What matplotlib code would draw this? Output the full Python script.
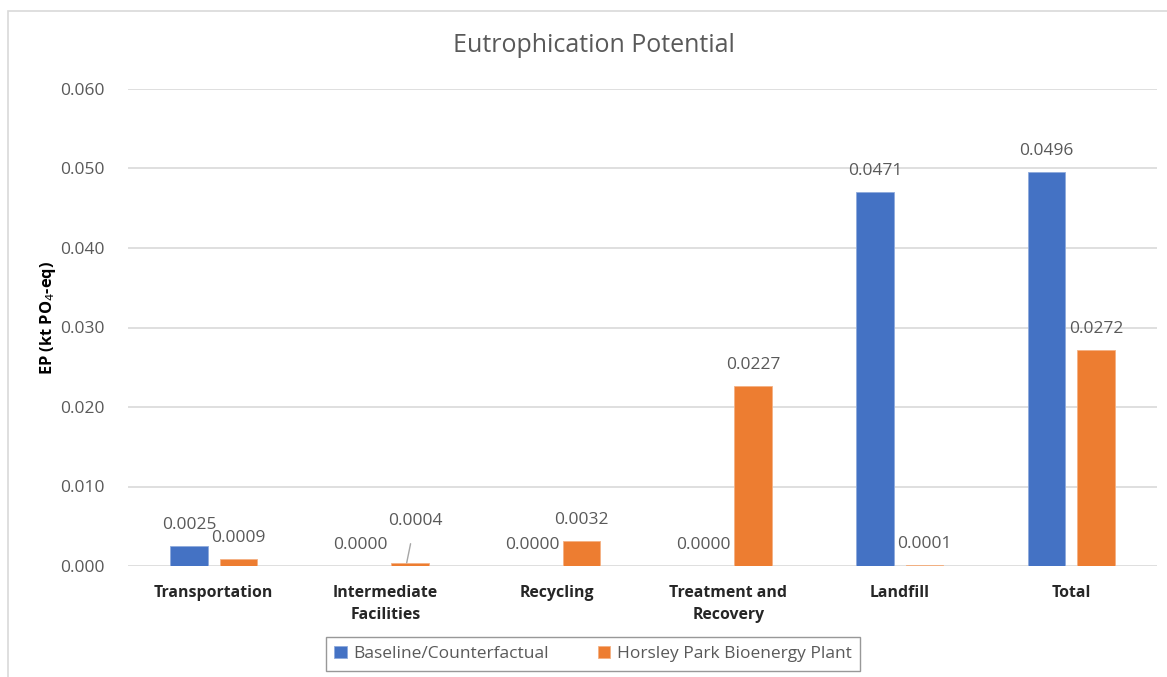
import matplotlib
matplotlib.use("Agg")
import matplotlib.pyplot as plt
from matplotlib.patches import Rectangle
import numpy as np

plt.rcParams["font.family"] = ["Open Sans", "DejaVu Sans"]

categories = ["Transportation", "Intermediate\nFacilities", "Recycling",
              "Treatment and\nRecovery", "Landfill", "Total"]
baseline = [0.0025, 0.0000, 0.0000, 0.0000, 0.0471, 0.0496]
horsley = [0.0009, 0.0004, 0.0032, 0.0227, 0.0001, 0.0272]
series_names = ["Baseline/Counterfactual", "Horsley Park Bioenergy Plant"]
yticks = [0.000, 0.010, 0.020, 0.030, 0.040, 0.050, 0.060]

BLUE = "#4472C4"
ORANGE = "#ED7D31"
GREY_TEXT = "#595959"

fig = plt.figure(figsize=(11.67, 6.77), dpi=100)
ax = fig.add_axes([128 / 1167, 1 - 566 / 677, (1157 - 128) / 1167, (566 - 89) / 677])

# chart area outline
fig.add_artist(Rectangle((8 / 1167, -0.05), 1.2, 1 - 11 / 677 + 0.05,
                         transform=fig.transFigure, fill=False,
                         edgecolor="#D9D9D9", linewidth=1.2))

x = np.arange(len(categories))
w = 0.22
off = 0.145
b1 = ax.bar(x - off, baseline, w, color=BLUE, edgecolor="#8FAADC", linewidth=0.6,
            label=series_names[0], zorder=3)
b2 = ax.bar(x + off, horsley, w, color=ORANGE, edgecolor="#F4B183", linewidth=0.6,
            label=series_names[1], zorder=3)

ax.set_xlim(-0.5, len(categories) - 0.5)
ax.set_ylim(0, 0.060)
ax.set_yticks(yticks)
ax.set_yticklabels([f"{v:.3f}" for v in yticks], fontsize=12.5, color=GREY_TEXT)
ax.set_xticks(x)
ax.set_xticklabels(categories, fontsize=11.4, fontweight="bold", color="#262626",
                   linespacing=1.45)
ax.tick_params(axis="both", length=0)
ax.tick_params(axis="y", pad=17)
ax.tick_params(axis="x", pad=14)
ax.grid(axis="y", color="#D9D9D9", linewidth=1.2, zorder=0)
for s in ax.spines.values():
    s.set_visible(False)

# value labels
for xs, vals in ((x - off, baseline), (x + off, horsley)):
    for xi, v in zip(xs, vals):
        if abs(v - 0.0004) < 1e-9:
            continue
        ax.annotate(f"{v:.4f}", (xi, v), xytext=(0, 15), textcoords="offset points",
                    ha="center", va="center", fontsize=12.5, color=GREY_TEXT)

# small bar label pulled up with a leader line
i = 1
ax.annotate(f"{horsley[i]:.4f}", (x[i] + off - 0.02, horsley[i]),
            xytext=(x[i] + off + 0.03, 0.0057), textcoords="data",
            ha="center", va="center", fontsize=12.5, color=GREY_TEXT,
            arrowprops=dict(arrowstyle="-", color="#A6A6A6", linewidth=1,
                            shrinkA=9, shrinkB=0))

ax.set_ylabel("EP (kt PO$_4$-eq)", fontsize=11.8, fontweight="bold", color="#000000")
ax.yaxis.set_label_coords(-(128 - 58) / (1157 - 128), 0.52)

fig.text(594 / 1167, 1 - 46 / 677, "Eutrophication Potential", ha="center", va="center",
         fontsize=18, color=GREY_TEXT)

leg = fig.legend(handles=[b1, b2], labels=series_names, loc="center",
                 bbox_to_anchor=(593 / 1167, 1 - 654 / 677), ncol=2, frameon=True,
                 fancybox=False, fontsize=12.5, handlelength=0.7, handleheight=0.7,
                 handletextpad=0.4, columnspacing=2.8, borderpad=0.5,
                 borderaxespad=0)
leg.get_frame().set_edgecolor("#7F7F7F")
leg.get_frame().set_linewidth(1.0)
for t in leg.get_texts():
    t.set_color(GREY_TEXT)

fig.savefig("out.png", dpi=100, facecolor="white")
